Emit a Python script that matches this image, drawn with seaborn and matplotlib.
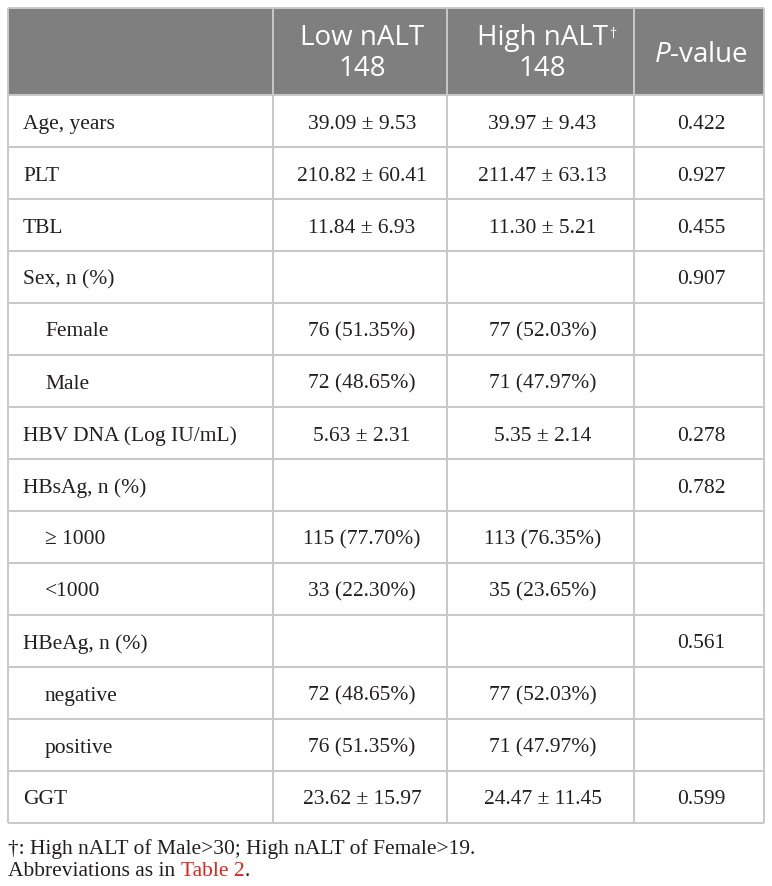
import matplotlib
matplotlib.use("Agg")
import matplotlib.pyplot as plt
from matplotlib.patches import Rectangle
import seaborn as sns

# table content
columnas = ["Low nALT\n148", "High nALT\n148", "P-value"]
etiquetas = [
    "Age, years", "PLT", "TBL", "Sex, n (%)", "Female", "Male",
    "HBV DNA (Log IU/mL)", "HBsAg, n (%)", "\u2265 1000", "<1000",
    "HBeAg, n (%)", "negative", "positive", "GGT",
]
sangria = [0, 0, 0, 0, 1, 1, 0, 0, 1, 1, 0, 1, 1, 0]
nalt_bajo = [
    "39.09 \u00b1 9.53", "210.82 \u00b1 60.41", "11.84 \u00b1 6.93", "",
    "76 (51.35%)", "72 (48.65%)", "5.63 \u00b1 2.31", "",
    "115 (77.70%)", "33 (22.30%)", "", "72 (48.65%)", "76 (51.35%)",
    "23.62 \u00b1 15.97",
]
nalt_alto = [
    "39.97 \u00b1 9.43", "211.47 \u00b1 63.13", "11.30 \u00b1 5.21", "",
    "77 (52.03%)", "71 (47.97%)", "5.35 \u00b1 2.14", "",
    "113 (76.35%)", "35 (23.65%)", "", "77 (52.03%)", "71 (47.97%)",
    "24.47 \u00b1 11.45",
]
valores_p = [
    "0.422", "0.927", "0.455", "0.907", "", "", "0.278", "0.782", "", "",
    "0.561", "", "", "0.599",
]
nota_1 = "\u2020: High nALT of Male>30; High nALT of Female>19."
nota_2 = "Abbreviations as in"
nota_ref = "Table 2"

sns.set_theme(style="white")
plt.rcParams["mathtext.fontset"] = "custom"
plt.rcParams["mathtext.rm"] = "Open Sans"
plt.rcParams["mathtext.it"] = "Open Sans:italic"

GRIS_CAB = "#7f7f7f"
GRIS_LINEA = "#c8c8c8"
TEXTO = "#231f20"
ROJO = "#e2231a"
SERIF = "Liberation Serif"
SANS = "Open Sans"

bordes_x = [8, 273, 447, 634, 764]
cab_sup, cab_inf = 8, 95
alto_fila = 52
tam_cuerpo = 15.5
tam_cab = 20

fig = plt.figure(figsize=(7.72, 8.86), dpi=100)
ax = fig.add_axes([0, 0, 1, 1])
ax.set_xlim(0, 772)
ax.set_ylim(886, 0)
ax.axis("off")

nro_filas = len(etiquetas)
fondo = cab_inf + alto_fila * nro_filas

# header band
ax.add_patch(Rectangle((bordes_x[0], cab_sup), bordes_x[-1] - bordes_x[0],
                       cab_inf - cab_sup, facecolor=GRIS_CAB, edgecolor="none"))

# grid lines
ax.hlines([cab_sup], bordes_x[0], bordes_x[-1], color=GRIS_LINEA, lw=1.4)
for i in range(nro_filas + 1):
    ax.hlines(cab_inf + i * alto_fila, bordes_x[0], bordes_x[-1],
              color=GRIS_LINEA, lw=1.4)
ax.vlines(bordes_x, cab_sup, fondo, color=GRIS_LINEA, lw=1.4)

centros = [(bordes_x[k] + bordes_x[k + 1]) / 2 + 2 for k in range(len(bordes_x) - 1)]

# header texts
y_l1, y_l2 = 38, 69
for k, col in enumerate(columnas[:2]):
    linea1, linea2 = col.split("\n")
    cx = centros[k + 1]
    t1 = ax.text(cx, y_l1, linea1, ha="center", va="center", color="white",
                 fontsize=tam_cab, family=SANS)
    ax.text(cx, y_l2, linea2, ha="center", va="center", color="white",
            fontsize=tam_cab, family=SANS)
    if k == 1:
        ax.annotate("\u2020", xy=(1, 1), xycoords=t1, xytext=(1, -2),
                    textcoords="offset points", ha="left", va="top",
                    color="white", fontsize=10, family=SANS)
ax.text(centros[3], (cab_sup + cab_inf) / 2 + 3, r"$\mathit{P}$-value",
        ha="center", va="center", color="white", fontsize=tam_cab, family=SANS)

# body
for i, etiqueta in enumerate(etiquetas):
    y = cab_inf + alto_fila * (i + 0.5) + 3
    x = bordes_x[0] + 15 + 22 * sangria[i]
    ax.text(x, y, etiqueta, ha="left", va="center", color=TEXTO,
            fontsize=tam_cuerpo, family=SERIF)
    for cx, valor in zip(centros[1:], [nalt_bajo[i], nalt_alto[i], valores_p[i]]):
        if valor:
            ax.text(cx, y, valor, ha="center", va="center", color=TEXTO,
                    fontsize=tam_cuerpo, family=SERIF)

# footnotes
ax.text(bordes_x[0], 849, nota_1, ha="left", va="center", color=TEXTO,
        fontsize=tam_cuerpo, family=SERIF)
t_nota = ax.text(bordes_x[0], 872, nota_2, ha="left", va="center", color=TEXTO,
                 fontsize=tam_cuerpo, family=SERIF)
t_ref = ax.annotate(nota_ref, xy=(1, 0), xycoords=t_nota, xytext=(4, 0),
                    textcoords="offset points", ha="left", va="bottom",
                    color=ROJO, fontsize=tam_cuerpo, family=SERIF)
ax.annotate(".", xy=(1, 0), xycoords=t_ref, ha="left", va="bottom",
            color=TEXTO, fontsize=tam_cuerpo, family=SERIF)

fig.savefig("out.png", dpi=100, facecolor="white")
